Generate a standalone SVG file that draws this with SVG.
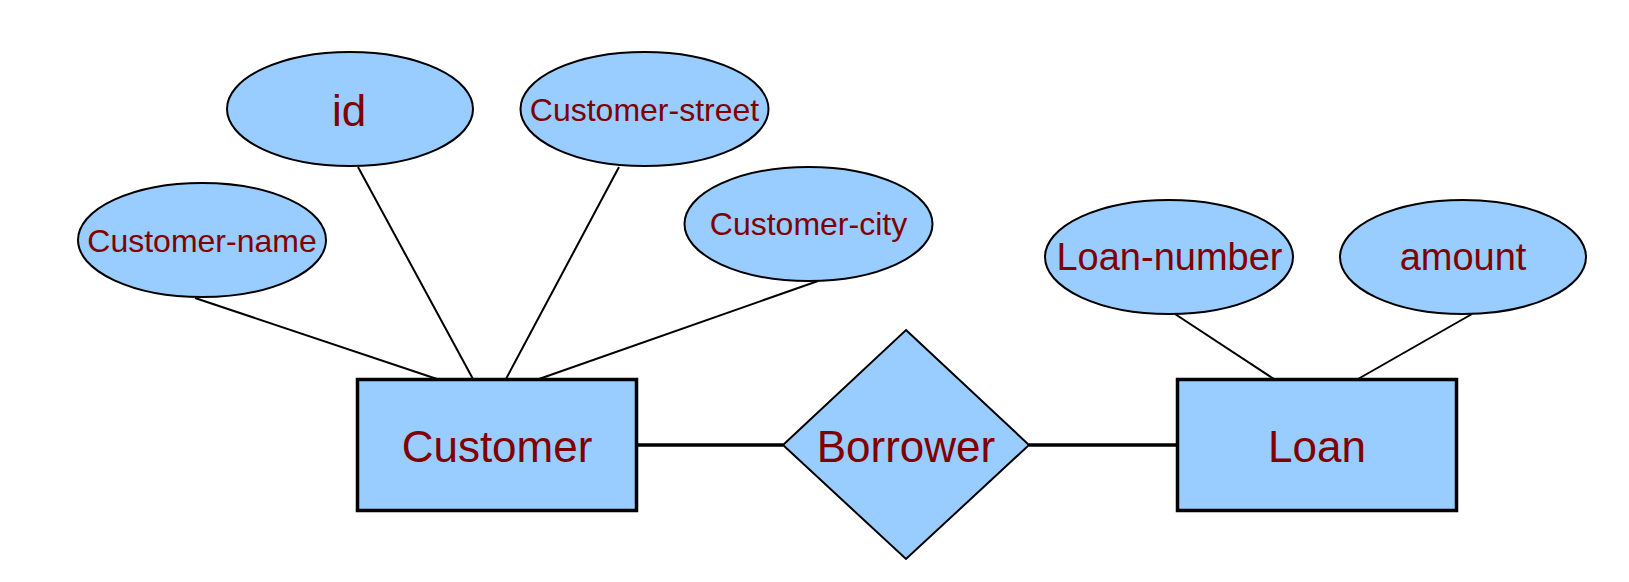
<svg xmlns="http://www.w3.org/2000/svg" width="1629" height="582" viewBox="0 0 1629 582">
<style>
.attr{fill:#99CCFF;stroke:#000;stroke-width:2}
.ent{fill:#99CCFF;stroke:#000;stroke-width:3.5}
.rel{fill:#99CCFF;stroke:#000;stroke-width:2}
.t{font-family:"Liberation Sans",Arial,sans-serif;fill:#800000;text-anchor:middle}
.s{font-size:32px}
.m{font-size:38px}
.l{font-size:44px}
.c line{stroke:#000}
.a{stroke-width:2}
.r{stroke-width:3.5}
</style>
<rect width="1629" height="582" fill="#fff"/>
<g class="c" id="connectors">
<line class="a" x1="195" y1="298" x2="437" y2="379"/>
<line class="a" x1="358" y1="167" x2="473" y2="379"/>
<line class="a" x1="619" y1="167" x2="506" y2="379"/>
<line class="a" x1="818" y1="281" x2="539" y2="379"/>
<line class="a" x1="1175" y1="314" x2="1274" y2="379"/>
<line class="a" x1="1472" y1="314" x2="1358" y2="379"/>
<line class="r" x1="636" y1="445" x2="783" y2="445"/>
<line class="r" x1="1029" y1="445" x2="1177" y2="445"/>
</g>
<g id="customer-name"><ellipse class="attr" cx="202" cy="240" rx="124" ry="57"/><text class="t s" x="202" y="252">Customer-name</text></g>
<g id="id"><ellipse class="attr" cx="350" cy="109" rx="123" ry="57"/><text class="t l" x="349" y="126">id</text></g>
<g id="customer-street"><ellipse class="attr" cx="644.5" cy="109" rx="124" ry="57"/><text class="t s" x="644.5" y="121">Customer-street</text></g>
<g id="customer-city"><ellipse class="attr" cx="808.5" cy="224" rx="124" ry="57"/><text class="t s" x="808.5" y="235">Customer-city</text></g>
<g id="loan-number"><ellipse class="attr" cx="1169" cy="257" rx="124" ry="57"/><text class="t m" x="1169.5" y="270">Loan-number</text></g>
<g id="amount"><ellipse class="attr" cx="1463" cy="257" rx="123" ry="57"/><text class="t m" x="1463" y="270">amount</text></g>
<g id="customer"><rect class="ent" x="357.5" y="379.5" width="279" height="131"/><text class="t l" x="497" y="462">Customer</text></g>
<g id="borrower"><polygon class="rel" points="906,330 1029,445 906,559 783,445"/><text class="t l" x="906" y="462">Borrower</text></g>
<g id="loan"><rect class="ent" x="1177.5" y="379.5" width="279" height="131"/><text class="t l" x="1317" y="462">Loan</text></g>
</svg>
